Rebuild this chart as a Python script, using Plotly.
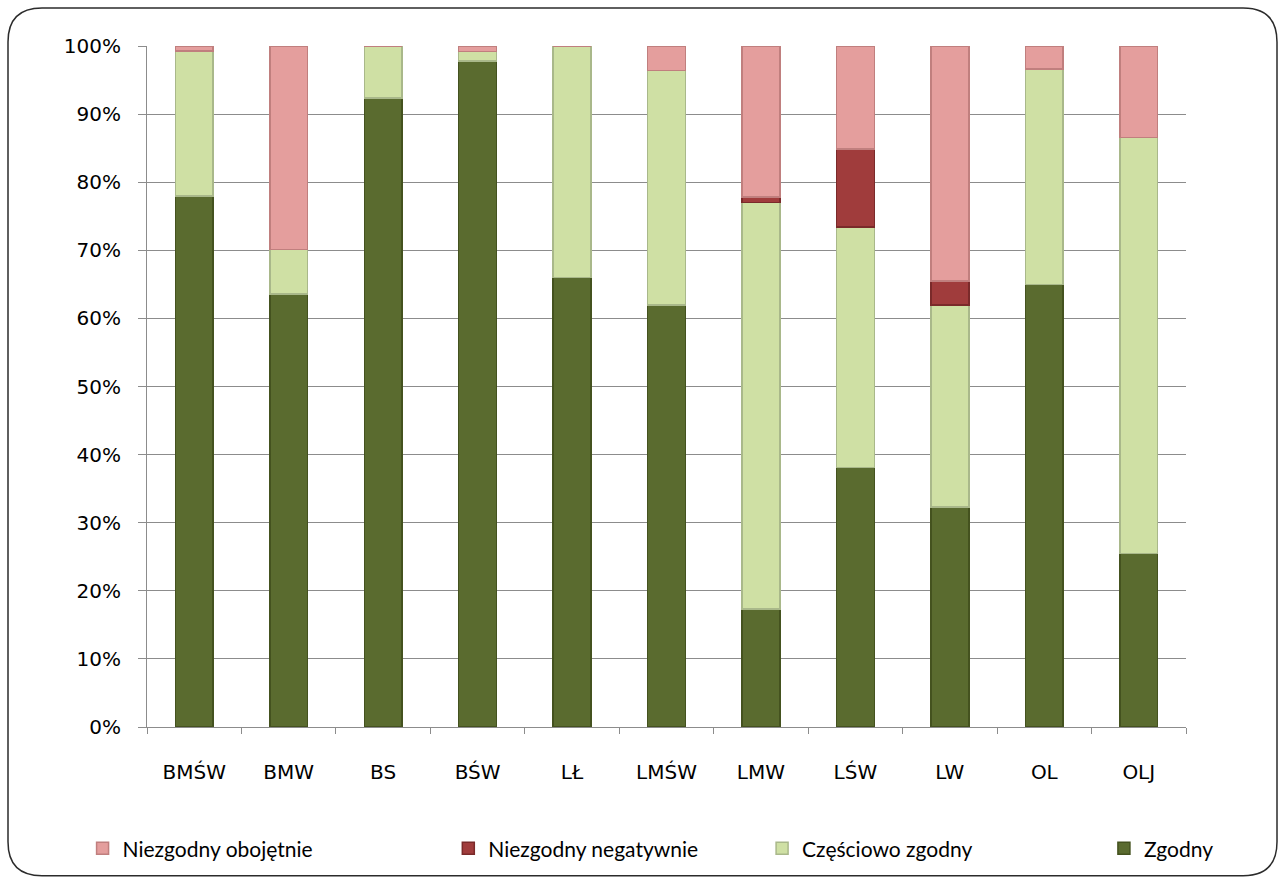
import plotly.graph_objects as go

# Categories and shares (in %) for each answer type
categories = ["BMŚW", "BMW", "BS", "BŚW", "LŁ", "LMŚW", "LMW", "LŚW", "LW", "OL", "OLJ"]
zgodny = [78.0, 63.6, 92.4, 97.8, 66.0, 62.0, 17.3, 38.1, 32.3, 65.0, 25.5]
czesciowo = [21.3, 6.5, 7.6, 1.4, 34.0, 34.4, 59.7, 35.3, 29.7, 31.6, 61.1]
negatywnie = [0.0, 0.0, 0.0, 0.0, 0.0, 0.0, 0.8, 11.5, 3.5, 0.0, 0.0]
obojetnie = [0.7, 29.9, 0.0, 0.8, 0.0, 3.6, 22.2, 15.1, 34.5, 3.4, 13.4]

y_ticks = [0, 10, 20, 30, 40, 50, 60, 70, 80, 90, 100]
y_tick_text = [f"{v}%" for v in y_ticks]

# name, values, fill, edge, legend id, legend x (paper)
series = [
    ("Zgodny", zgodny, "#5a6b2f", "#44521f", "legend5", 0.921),
    ("Częściowo zgodny", czesciowo, "#cfe0a4", "#a9b88a", "legend4", 0.592),
    ("Niezgodny negatywnie", negatywnie, "#a03c3c", "#7a2a2a", "legend3", 0.290),
    ("Niezgodny obojętnie", obojetnie, "#e49e9d", "#c07f7e", "legend2", -0.062),
]

fig = go.Figure()
legend_layout = {}
for name, vals, col, edge, lg, lx in series:
    fig.add_trace(go.Bar(
        x=categories, y=vals, name=name, legend=lg,
        marker=dict(color=col, line=dict(color=edge, width=1.5)),
    ))
    legend_layout[lg] = dict(
        x=lx, y=-0.177, xanchor="left", yanchor="middle", orientation="h",
        font=dict(family="Lato, sans-serif", size=21, color="#000"),
        bgcolor="rgba(0,0,0,0)", itemwidth=30,
    )

# Rounded frame around the whole chart, in paper units of the plot area
L, R, T, B = 147, 1186, 46, 728
W, H = R - L, B - T
def px(x):
    return (x - L) / W
def py(y):
    return (B - y) / H
x0, x1, y0, y1, r = 8, 1277, 8, 877, 34
path = (
    f"M {px(x0 + r)},{py(y0)} L {px(x1 - r)},{py(y0)} "
    f"Q {px(x1)},{py(y0)} {px(x1)},{py(y0 + r)} "
    f"L {px(x1)},{py(y1 - r)} Q {px(x1)},{py(y1)} {px(x1 - r)},{py(y1)} "
    f"L {px(x0 + r)},{py(y1)} Q {px(x0)},{py(y1)} {px(x0)},{py(y1 - r)} "
    f"L {px(x0)},{py(y0 + r)} Q {px(x0)},{py(y0)} {px(x0 + r)},{py(y0)} Z"
)

tick_font = dict(family="DejaVu Sans, sans-serif", size=20, color="#000")

fig.update_layout(
    barmode="stack",
    bargap=0.6,
    width=1280, height=880,
    margin=dict(l=L, r=1280 - R, t=T, b=880 - B),
    paper_bgcolor="white",
    plot_bgcolor="white",
    font=dict(family="DejaVu Sans, sans-serif", size=20, color="#000"),
    showlegend=True,
    shapes=[dict(type="path", path=path, xref="paper", yref="paper",
                 line=dict(color="#2b2b2b", width=1.5), layer="below")],
    **legend_layout,
)
fig.update_yaxes(
    range=[0, 100], tickmode="array", tickvals=y_ticks, ticktext=y_tick_text,
    showgrid=True, gridcolor="#8c8c8c", gridwidth=1,
    showline=True, linecolor="#8c8c8c", linewidth=1,
    ticks="outside", ticklen=8, tickcolor="#8c8c8c",
    ticklabelstandoff=13, zeroline=False,
    tickfont=tick_font,
)
fig.update_xaxes(
    showline=True, linecolor="#8c8c8c", linewidth=1,
    ticks="outside", ticklen=6, tickcolor="#8c8c8c", tickson="boundaries",
    ticklabelstandoff=27,
    tickfont=tick_font,
)

fig.write_html("out.html")
